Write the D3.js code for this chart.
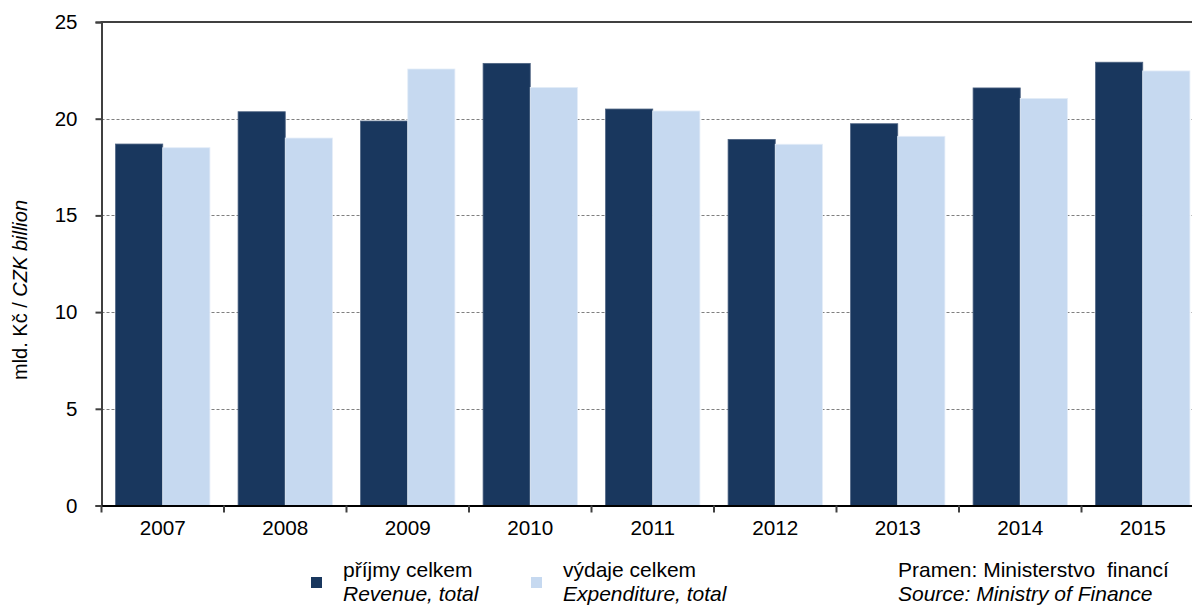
<!DOCTYPE html>
<html><head><meta charset="utf-8">
<script src="https://cdn.jsdelivr.net/npm/d3@7"></script>
<style>
body{margin:0;background:#fff;}
svg{display:block;font-family:"Liberation Sans",Arial,sans-serif;}
</style></head>
<body>
<svg id="c" width="1192" height="605"></svg>
<script>
const years = ["2007","2008","2009","2010","2011","2012","2013","2014","2015"];
const revenue = [18.69, 20.36, 19.88, 22.86, 20.50, 18.93, 19.74, 21.59, 22.92];
const expenditure = [18.50, 19.00, 22.57, 21.62, 20.40, 18.68, 19.09, 21.05, 22.47];
const yTicks = [0, 5, 10, 15, 20, 25];
const seriesNames = [["příjmy celkem","Revenue, total"],["výdaje celkem","Expenditure, total"]];
const colors = ["#19375e","#c6d9f0"];
const strokes = ["#4d6382","#e4edf8"];

(function(){
const svg = d3.select("#c");
const L = 101.5, T = 22, B = 505.5, bandW = 122.5;
const x = d3.scaleBand().domain(years).range([L, L + bandW*years.length]).paddingInner(0.23).paddingOuter(0.115);
const xs = d3.scaleBand().domain([0,1]).range([0, x.bandwidth()]);
const y = d3.scaleLinear().domain([0,25]).range([B, T]);

// gridlines
svg.append("g").selectAll("line").data(yTicks.filter(t=>t>0&&t<25)).join("line")
  .attr("x1", L).attr("x2", 1192).attr("y1", d=>Math.round(y(d))+0.5).attr("y2", d=>Math.round(y(d))+0.5)
  .attr("stroke","#7f7f7f").attr("stroke-width",1).attr("stroke-dasharray","3,2");

// bars
const series = [revenue, expenditure];
series.forEach((vals, si) => {
  svg.append("g").selectAll("rect").data(vals).join("rect")
    .attr("x", (d,i)=>x(years[i]) + xs(si))
    .attr("y", d=>y(d))
    .attr("width", xs.bandwidth())
    .attr("height", d=>B - y(d))
    .attr("fill", colors[si])
    .attr("stroke", strokes[si]).attr("stroke-width", 0.8);
});

// top border
svg.append("line").attr("x1", L-1).attr("x2",1192).attr("y1", T).attr("y2", T)
  .attr("stroke","#404040").attr("stroke-width",2);

// y axis
const yAxis = d3.axisLeft(y).tickValues(yTicks).tickSize(6).tickPadding(18);
const gy = svg.append("g").attr("transform",`translate(${L},0)`).call(yAxis);
gy.select(".domain").attr("stroke","#404040").attr("stroke-width",2);
gy.selectAll(".tick line").attr("stroke","#404040").attr("stroke-width",2);
gy.selectAll(".tick text").attr("font-size","20.5px").attr("fill","#000").attr("font-family","Liberation Sans, Arial, sans-serif");

// x axis
const xAxis = d3.axisBottom(x).tickSize(0).tickPadding(15);
const gx = svg.append("g").attr("transform",`translate(0,${B})`).call(xAxis);
gx.select(".domain").attr("stroke","#000").attr("stroke-width",2);
gx.selectAll(".tick text").attr("font-size","20.7px").attr("fill","#000").attr("font-family","Liberation Sans, Arial, sans-serif");
// band boundary ticks
const bounds = d3.range(years.length).map(i => L + i*bandW);
svg.append("g").selectAll("line").data(bounds).join("line")
  .attr("x1", d=>d).attr("x2", d=>d).attr("y1", B).attr("y2", B+7)
  .attr("stroke","#404040").attr("stroke-width",2);

// y axis title
const yt = svg.append("text").attr("transform","translate(27,290) rotate(-90)")
  .attr("text-anchor","middle").attr("font-size","20px").attr("fill","#000");
yt.append("tspan").text("mld. Kč / ");
yt.append("tspan").attr("font-style","italic").text("CZK billion");

// legend
const legX = [311, 531];
seriesNames.forEach((nm, i) => {
  const g = svg.append("g");
  g.append("rect").attr("x", legX[i]).attr("y", 577).attr("width", 11).attr("height", 11).attr("fill", colors[i]);
  g.append("text").attr("x", legX[i]+32).attr("y", 577).attr("font-size","21px").text(nm[0]);
  g.append("text").attr("x", legX[i]+32).attr("y", 601).attr("font-size","21px").attr("font-style","italic").text(nm[1]);
});

// source
svg.append("text").attr("x", 898).attr("y", 577).attr("font-size","21px").attr("xml:space","preserve").text("Pramen: Ministerstvo  financí");
svg.append("text").attr("x", 898).attr("y", 601).attr("font-size","21px").attr("font-style","italic").text("Source: Ministry of Finance");
})();
</script>
</body></html>
